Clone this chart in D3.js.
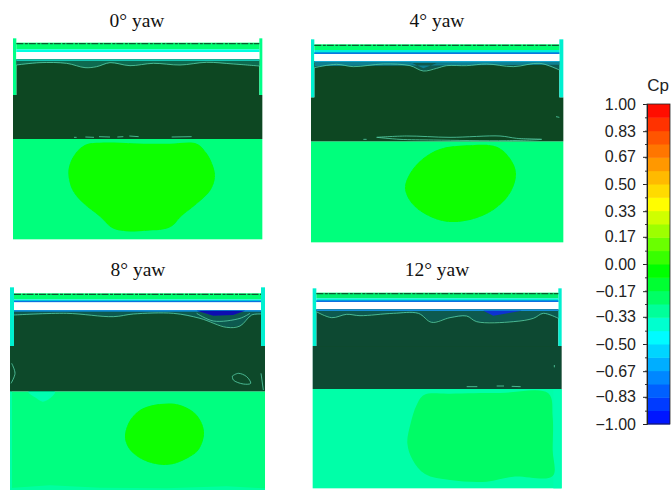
<!DOCTYPE html>
<html><head><meta charset="utf-8">
<script src="https://cdn.jsdelivr.net/npm/d3@7/dist/d3.min.js"></script>
<style>html,body{margin:0;background:#fff}svg{display:block}</style></head>
<body><svg id="c" width="672" height="490"></svg>
<script>
// ---- data (surface coordinates are in grid units of 1/3 px) ----
const yawLabels = ["0° yaw","4° yaw","8° yaw","12° yaw"];
const cpTicks = [1,0.83,0.67,0.5,0.33,0.17,0,-0.17,-0.33,-0.5,-0.67,-0.83,-1];
const cpStopValues = [-1,-0.45,-0.05,0.37,1];
const cpStopColors = ["#0000ff","#00ffff","#00ff00","#ffff00","#ff0000"];

const blob0 = [[205,520],[212,485],[235,450],[262,432],[300,428],[360,428],[430,431],[510,431],[590,431],[620,460],[638,495],[645,530],[632,570],[592,610],[545,648],[510,682],[440,692],[345,688],[300,650],[250,610],[217,570]];
const blob4 = [[315,565],[330,520],[370,475],[420,447],[500,436],[590,440],[630,475],[648,520],[630,580],[580,630],[510,660],[440,665],[380,645],[335,610]];
const blob8 = [[375,565],[385,520],[420,480],[480,462],[540,465],[590,495],[612,545],[595,600],[540,635],[490,645],[430,630],[390,600]];
const blob12 = [[322,580],[332,520],[350,465],[372,435],[450,431],[600,429],[745,430],[758,500],[758,600],[758,678],[640,680],[560,695],[450,690],[375,672],[338,630]];

const edge0 = [[49,195],[120,188],[200,190],[255,203],[290,200],[330,188],[390,197],[460,190],[540,195],[620,187],[700,192],[778,198]];
const edge4 = [[43,203],[110,193],[160,200],[250,192],[330,197],[370,213],[410,205],[440,197],[500,197],[560,192],[640,200],[720,190],[778,210]];
const edge8 = [[42,195],[200,190],[340,200],[400,192],[520,190],[600,205],[680,232],[720,228],[755,195],[783,192]];
const edge12 = [[49,185],[95,203],[140,193],[180,197],[280,190],[355,190],[395,217],[450,203],[500,198],[530,215],[640,215],[700,205],[730,190],[775,205]];

const extra0 = [[[222,412],[230,412]],[[256,411],[282,412]],[[297,410],[330,411]],[[352,411],[370,410]],[[388,408],[416,410]],[[515,411],[575,410]]];
const extra4 = [[[230,412],[320,408],[450,412],[600,408],[650,415],[725,418],[620,422],[400,420],[300,418],[230,412]],[[190,418],[200,418]],[[768,350],[778,352]]];
const extra8 = [[[697,378],[715,370],[740,380],[752,400],[730,402],[700,390],[697,378]],[[590,190],[640,213],[720,205],[750,190]],[[35,340],[45,370],[33,400]],[[783,370],[790,420]]];
const extra12 = [[[500,410],[532,410]],[[590,408],[612,408]],[[635,409],[662,410]],[[763,345],[763,352]]];

const patch4 = [[45,186],[330,186],[370,205],[410,190],[778,186],[778,194],[45,198]];
const patch8 = [[590,182],[735,182],[700,195],[640,197]];
const patch12 = [[550,182],[665,182],[610,192],[580,197]];
const wash8 = [[85,425],[165,425],[150,445],[128,455],[105,442]];
const wash8b = [[30,720],[30,714],[150,706],[300,713],[500,715],[680,709],[795,715],[795,720]];

// ---- layout ----
const frames = [
 {dx:0,  dy:0,  L:39,R:787,iL:49,iR:778,post:115,bar:130,cyan:148,line:null,wT:156,wB:178,wide:285,low:417,bot:718,blob:blob0,edge:edge0,extra:extra0,
  lowC:"#00ff7c",blobC:"#08ff06",dark:"#0b4622",rim:"#12c8b4",patch:null,patchC:null},
 {dx:300,dy:0,  L:33,R:790,iL:43,iR:778,post:118,bar:135,cyan:150,line:"#0a78e0",wT:162,wB:183,wide:292,low:424,bot:727,blob:blob4,edge:edge4,extra:extra4,
  lowC:"#00ff7c",blobC:"#08ff06",dark:"#0b4622",rim:"#12a8d0",patch:patch4,patchC:"#0d8090"},
 {dx:0,  dy:250,L:30,R:795,iL:42,iR:783,post:112,bar:132,cyan:148,line:"#0a70e0",wT:157,wB:180,wide:288,low:424,bot:720,blob:blob8,edge:edge8,extra:extra8,
  lowC:"#00ff80",blobC:"#08ff06",dark:"#0e4a2c",rim:"#1490d8",patch:patch8,patchC:"#0a10b0"},
 {dx:300,dy:250,L:38,R:785,iL:49,iR:775,post:115,bar:130,cyan:145,line:"#0a70e0",wT:156,wB:178,wide:288,low:417,bot:715,blob:blob12,edge:edge12,extra:extra12,
  lowC:"#00ffa8",blobC:"#00fc66",dark:"#0e4a30",rim:"#1490d8",patch:patch12,patchC:"#0a30d0"}
];

const svg = d3.select("#c");
const gx = d3.scaleLinear().domain([0,2016]).range([0,672]);
const gy = d3.scaleLinear().domain([0,1470]).range([0,490]);
const defs = svg.append("defs");
defs.append("filter").attr("id","soft").attr("x","-5%").attr("y","-5%").attr("width","110%").attr("height","110%")
  .append("feGaussianBlur").attr("stdDeviation",0.6);
const rect = (g,x0,y0,x1,y1,fill)=>g.append("rect").attr("x",gx(x0)).attr("y",gy(y0)).attr("width",gx(x1-x0)).attr("height",gy(y1-y0)).attr("fill",fill);
const closed = d3.line().x(d=>gx(d[0])).y(d=>gy(d[1])).curve(d3.curveCatmullRomClosed.alpha(0.5));
const open = d3.line().x(d=>gx(d[0])).y(d=>gy(d[1])).curve(d3.curveCatmullRom.alpha(0.5));
const poly = d3.line().x(d=>gx(d[0])).y(d=>gy(d[1]));

frames.forEach((f,i)=>{
  const g = svg.append("g").attr("transform",`translate(${f.dx},${f.dy})`).attr("filter","url(#soft)");
  // lower surface
  rect(g,f.L,f.low,f.R,f.bot,f.lowC);
  if(i===3){ rect(g,f.R-25,f.low,f.R,f.bot,"#00ffb0"); }
  if(i===2){
    g.append("path").attr("d",closed(wash8)).attr("fill","#00ffb0");
    g.append("path").attr("d",poly(wash8b)).attr("fill","#00ffa0");
    rect(g,f.L,f.low,f.L+6,f.bot,"#00ffa8");
  }
  g.append("path").attr("d",closed(f.blob)).attr("fill",f.blobC);
  // wake region + wide block
  rect(g,f.L,f.wide,f.R,f.low,f.dark);
  rect(g,f.iL,f.wB,f.iR,f.wide+2,f.dark);
  // posts
  [[f.L,f.iL],[f.iR,f.R]].forEach(p=>{
    rect(g,p[0],f.post,p[1],f.wide,i===0?"#00ff88":"#00f0d0");
  });
  // upper strip
  rect(g,f.iL,f.bar-2,f.iR,f.cyan,i===3?"#00f070":"#00ff70");
  rect(g,f.iL,f.cyan,f.iR,f.wT,i===0?"#00ffe0":"#00f0d8");
  if(f.line) rect(g,f.iL,f.wT-5,f.iR,f.wT,f.line);
  g.append("line").attr("x1",gx(f.iL)).attr("x2",gx(f.iR)).attr("y1",gy(f.bar+1)).attr("y2",gy(f.bar+1))
    .attr("stroke","#0d5a30").attr("stroke-width",1.1).attr("stroke-dasharray","7 1.5 3 1");
  rect(g,f.iL,f.wT,f.iR,f.wB,"#ffffff");
  // rim below white and patches
  const rimArea = [[f.iL,f.wB]].concat([[f.iR,f.wB]],f.edge.slice().reverse());
  g.append("path").attr("d",poly(rimArea)).attr("fill",i===0?"#0e6a50":"#0d5a50");
  rect(g,f.iL,f.wB,f.iR,f.wB+5,f.rim);
  if(f.patch) g.append("path").attr("d",poly(f.patch)).attr("fill",f.patchC);
  // contours
  g.append("path").attr("d",open(f.edge)).attr("fill","none").attr("stroke","#58d0a8").attr("stroke-width",0.8);
  f.extra.forEach(c=>g.append("path").attr("d",open(c)).attr("fill","none").attr("stroke","#58d0a8").attr("stroke-width",0.8));
});

// titles
const titleX=[137,437,138,437], titleY=[27,27,276,276];
yawLabels.forEach((t,i)=>svg.append("text").attr("x",titleX[i]).attr("y",titleY[i]).attr("text-anchor","middle")
  .attr("font-family","'Liberation Serif',serif").attr("font-size",19.5).attr("fill","#111").text(t));

// colour bar
const cpY = d3.scaleLinear().domain([-1,1]).range([424,104]);
const cpColor = d3.scaleLinear().domain(cpStopValues).range(cpStopColors).interpolate(d3.interpolateRgb);
const bandEdges = d3.range(24).map(k=>-1+k/12);
const bar = svg.append("g").attr("filter","url(#soft)");
bar.selectAll("rect").data(bandEdges).join("rect")
  .attr("x",647).attr("width",23)
  .attr("y",d=>cpY(d+1/12)).attr("height",d=>cpY(d)-cpY(d+1/12)+0.5)
  .attr("fill",d=>cpColor(d+1/24));
bar.append("rect").attr("x",647).attr("y",104).attr("width",23).attr("height",320)
  .attr("fill","none").attr("stroke","#222").attr("stroke-width",0.8);
const axis = d3.axisLeft(cpY).tickValues(cpTicks).tickFormat(d3.format(".2f")).tickSize(4).tickPadding(7);
const ag = svg.append("g").attr("transform","translate(647,0)").call(axis);
ag.select(".domain").attr("stroke","#222");
ag.selectAll(".tick line").attr("stroke","#222");
ag.selectAll("text").attr("font-family","'Liberation Sans',sans-serif").attr("font-size",16).attr("fill","#222");
const minor = d3.axisLeft(cpY).tickValues(bandEdges.map(d=>d+1/12)).tickFormat("").tickSize(2);
const mg = svg.append("g").attr("transform","translate(647,0)").call(minor);
mg.select(".domain").remove(); mg.selectAll("line").attr("stroke","#333");
svg.append("text").attr("x",658).attr("y",91).attr("text-anchor","middle")
  .attr("font-family","'Liberation Sans',sans-serif").attr("font-size",17).attr("fill","#222").text("Cp");
</script></body></html>
